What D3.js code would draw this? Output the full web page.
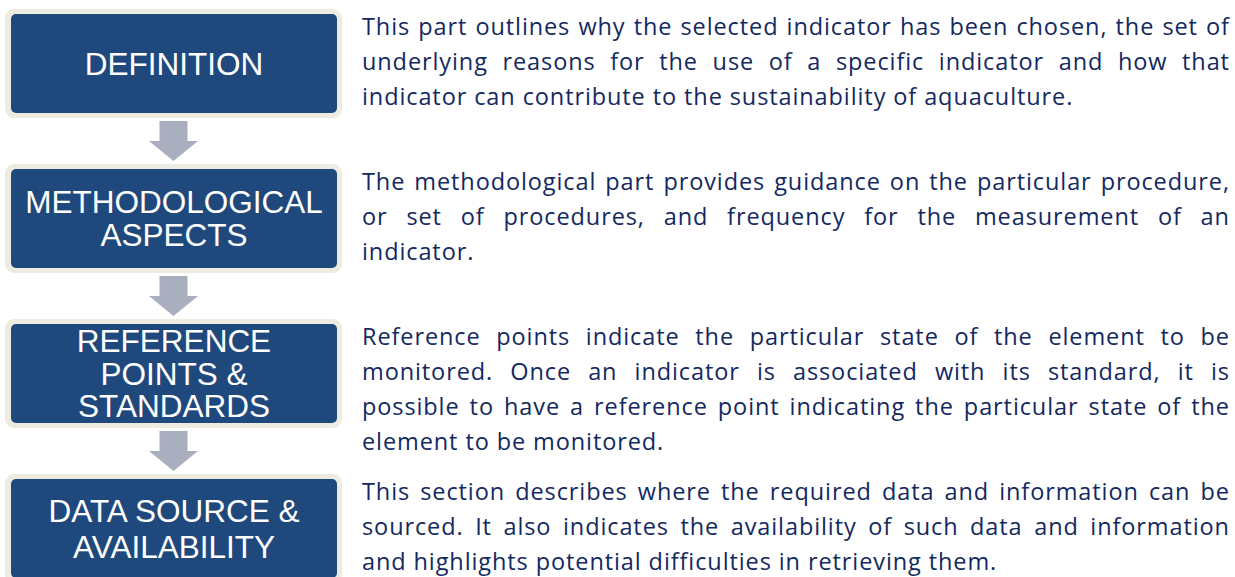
<!DOCTYPE html>
<html>
<head>
<meta charset="utf-8">
<script src="https://cdn.jsdelivr.net/npm/d3@7"></script>
<style>
  html, body { margin: 0; padding: 0; background: #fff; }
  svg { display: block; }
</style>
</head>
<body>
<svg id="chart"></svg>
<script>
// Steps of the indicator sheet, top to bottom
const stepLabels = [
    ['DEFINITION'],
    ['METHODOLOGICAL', 'ASPECTS'],
    ['REFERENCE', 'POINTS &', 'STANDARDS'],
    ['DATA SOURCE &', 'AVAILABILITY']
];

// Description lines as they break in the original
const stepTexts = [
    [
        'This part outlines why the selected indicator has been chosen, the set of',
        'underlying reasons for the use of a specific indicator and how that',
        'indicator can contribute to the sustainability of aquaculture.'
    ],
    [
        'The methodological part provides guidance on the particular procedure,',
        'or set of procedures, and frequency for the measurement of an',
        'indicator.'
    ],
    [
        'Reference points indicate the particular state of the element to be',
        'monitored. Once an indicator is associated with its standard, it is',
        'possible to have a reference point indicating the particular state of the',
        'element to be monitored.'
    ],
    [
        'This section describes where the required data and information can be',
        'sourced. It also indicates the availability of such data and information',
        'and highlights potential difficulties in retrieving them.'
    ]
];

const width = 1235;
const height = 577;

const svg = d3.select('#chart')
    .attr('width', width)
    .attr('height', height);

// vertical position of each step box (outer edge)
const yScale = d3.scaleLinear()
    .domain([0, stepLabels.length - 1])
    .range([9, 474]);

const box = { x: 5, w: 337, h: 109, border: 5 };
const cx = box.x + box.w / 2;
const lineGaps = [33, 33, 32.5, 36];
const labelSize = 31.5;

const steps = svg.selectAll('g.step')
    .data(stepLabels)
    .enter()
    .append('g')
    .attr('class', 'step')
    .attr('transform', (d, i) => `translate(0, ${yScale(i)})`);

steps.append('rect')
    .attr('x', box.x)
    .attr('y', 0)
    .attr('width', box.w)
    .attr('height', box.h)
    .attr('rx', 9)
    .attr('fill', '#EEECE1');

steps.append('rect')
    .attr('x', box.x + box.border + 1)
    .attr('y', box.border)
    .attr('width', box.w - 2 * box.border - 1)
    .attr('height', box.h - 2 * box.border)
    .attr('rx', 5)
    .attr('fill', '#1F497D');

steps.each(function(lines, i) {
    const g = d3.select(this);
    const gap = lineGaps[i];
    lines.forEach((line, k) => {
        g.append('text')
            .attr('x', cx + 0.5)
            .attr('y', box.h / 2 + (k - (lines.length - 1) / 2) * gap + labelSize * 0.36)
            .attr('text-anchor', 'middle')
            .attr('fill', '#fff')
            .attr('font-family', '"Liberation Sans", Arial, sans-serif')
            .attr('font-size', labelSize + 'px')
            .text(line);
    });
});

// Down arrows between the boxes
const arrow = { shaft: 14, head: 24.5 };
d3.range(stepLabels.length - 1).forEach(i => {
    const y0 = yScale(i) + box.h + 3;
    const y1 = yScale(i + 1) - 3;
    const ym = (y0 + y1) / 2;
    const path = d3.path();
    path.moveTo(cx - arrow.shaft, y0);
    path.lineTo(cx + arrow.shaft, y0);
    path.lineTo(cx + arrow.shaft, ym);
    path.lineTo(cx + arrow.head, ym);
    path.lineTo(cx, y1);
    path.lineTo(cx - arrow.head, ym);
    path.lineTo(cx - arrow.shaft, ym);
    path.closePath();
    svg.append('path')
        .attr('d', path.toString())
        .attr('fill', '#A9AFBF');
});

// Justified description text
const textLeft = 362;
const textRight = 1229;
const textSize = 23.5;
const textTrack = 0.9;
const textLead = 35;
const textFont = '"Open Sans", sans-serif';

function styleText(sel) {
    return sel
        .attr('font-family', textFont)
        .attr('font-size', textSize + 'px')
        .attr('letter-spacing', textTrack);
}

function measure(word) {
    const t = svg.append('text').call(styleText).text(word);
    const w = t.node().getComputedTextLength();
    t.remove();
    return w;
}

const spaceW = measure('a a') - measure('aa');

stepTexts.forEach((lines, i) => {
    lines.forEach((line, k) => {
        const words = line.split(' ');
        const widths = words.map(measure);
        const total = d3.sum(widths);
        const last = k === lines.length - 1;
        const gap = last || words.length < 2
            ? spaceW
            : (textRight - textLeft - total + textTrack) / (words.length - 1);
        const text = svg.append('text')
            .attr('y', yScale(i) + 26 + k * textLead)
            .attr('fill', '#13295F')
            .call(styleText);
        let x = textLeft;
        words.forEach((w, j) => {
            text.append('tspan')
                .attr('x', x)
                .text(w);
            x += widths[j] + gap;
        });
    });
});
</script>
</body>
</html>
